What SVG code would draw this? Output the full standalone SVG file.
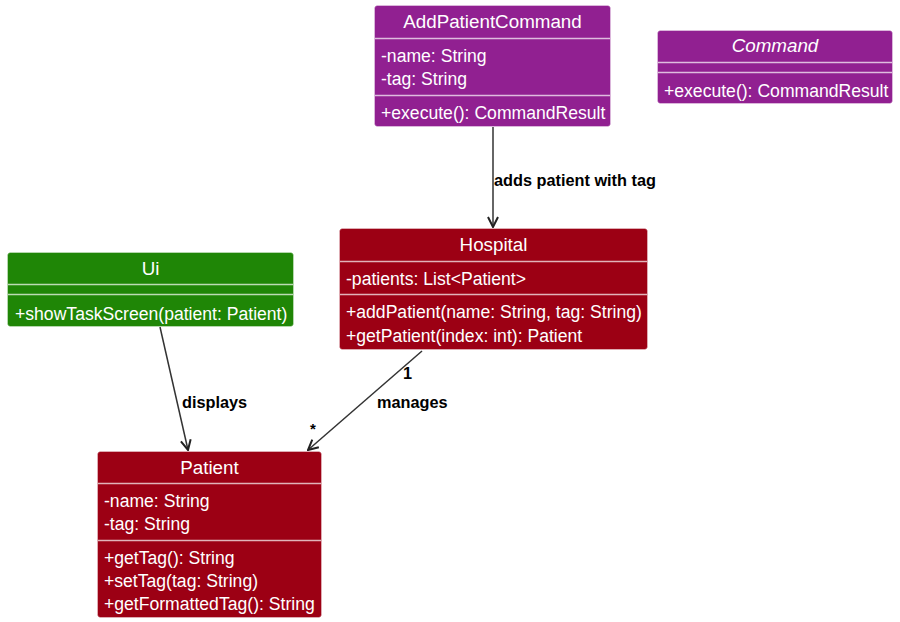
<svg xmlns="http://www.w3.org/2000/svg" width="900" height="622" viewBox="0 0 900 622">
<defs>
<style>
.box{stroke:#ffffff;stroke-opacity:0.35;stroke-width:1}
.purple{fill:#912091}
.green{fill:#1f8606}
.red{fill:#9c0014}
.sep{stroke:#ffffff;stroke-opacity:0.7;stroke-width:1.5}
.title{font-family:"Liberation Sans",Arial,sans-serif;font-size:18.8px;fill:#ffffff;text-anchor:middle}
.mem{font-family:"Liberation Sans",Arial,sans-serif;font-size:17.6px;fill:#ffffff}
.lbl{font-family:"Liberation Sans",Arial,sans-serif;font-size:16.3px;font-weight:bold;fill:#000000}
.edge{stroke:#333333;stroke-width:1.5;fill:none}
</style>
<marker id="arr" viewBox="0 0 12 12" refX="11" refY="6" markerWidth="12" markerHeight="12" markerUnits="userSpaceOnUse" orient="auto">
<path d="M1,1 L11,6 L1,11" fill="none" stroke="#222222" stroke-width="2"/>
</marker>
</defs>
<rect width="900" height="622" fill="#ffffff"/>

<g id="connectors">
<line class="edge" x1="493" y1="127" x2="493" y2="227" marker-end="url(#arr)"/>
<line class="edge" x1="160" y1="327" x2="188" y2="450" marker-end="url(#arr)"/>
<line class="edge" x1="422" y1="351" x2="308" y2="450" marker-end="url(#arr)"/>
<text class="lbl" x="494" y="186">adds patient with tag</text>
<text class="lbl" x="182" y="408">displays</text>
<text class="lbl" x="403" y="379">1</text>
<text class="lbl" x="377" y="408">manages</text>
<text class="lbl" x="310" y="434" style="font-size:15px">*</text>
</g>

<g id="AddPatientCommand">
<rect class="box purple" x="374.5" y="5.5" width="236" height="121" rx="3"/>
<text class="title" x="492.5" y="28">AddPatientCommand</text>
<line class="sep" x1="375" y1="38.5" x2="610" y2="38.5"/>
<text class="mem" x="381" y="62">-name: String</text>
<text class="mem" x="381" y="85">-tag: String</text>
<line class="sep" x1="375" y1="95.5" x2="610" y2="95.5"/>
<text class="mem" x="381" y="119">+execute(): CommandResult</text>
</g>

<g id="Command">
<rect class="box purple" x="657.5" y="30.5" width="235" height="73" rx="3"/>
<text class="title" x="775" y="52" font-style="italic">Command</text>
<line class="sep" x1="658" y1="62.5" x2="892" y2="62.5"/>
<line class="sep" x1="658" y1="72.5" x2="892" y2="72.5"/>
<text class="mem" x="664" y="97">+execute(): CommandResult</text>
</g>

<g id="Ui">
<rect class="box green" x="7.5" y="252.5" width="286" height="74" rx="3"/>
<text class="title" x="150.5" y="275">Ui</text>
<line class="sep" x1="8" y1="284.5" x2="293" y2="284.5"/>
<line class="sep" x1="8" y1="294.5" x2="293" y2="294.5"/>
<text class="mem" x="15" y="320">+showTaskScreen(patient: Patient)</text>
</g>

<g id="Hospital">
<rect class="box red" x="339.5" y="228.5" width="308" height="121" rx="3"/>
<text class="title" x="493.5" y="251">Hospital</text>
<line class="sep" x1="340" y1="261.5" x2="647" y2="261.5"/>
<text class="mem" x="346" y="285">-patients: List&lt;Patient&gt;</text>
<line class="sep" x1="340" y1="294.5" x2="647" y2="294.5"/>
<text class="mem" x="346" y="318">+addPatient(name: String, tag: String)</text>
<text class="mem" x="346" y="342">+getPatient(index: int): Patient</text>
</g>

<g id="Patient">
<rect class="box red" x="97.5" y="451.5" width="224" height="166" rx="3"/>
<text class="title" x="209.5" y="474">Patient</text>
<line class="sep" x1="98" y1="483.5" x2="321" y2="483.5"/>
<text class="mem" x="104" y="507">-name: String</text>
<text class="mem" x="104" y="530">-tag: String</text>
<line class="sep" x1="98" y1="540.5" x2="321" y2="540.5"/>
<text class="mem" x="104" y="564">+getTag(): String</text>
<text class="mem" x="104" y="587">+setTag(tag: String)</text>
<text class="mem" x="104" y="610">+getFormattedTag(): String</text>
</g>
</svg>
